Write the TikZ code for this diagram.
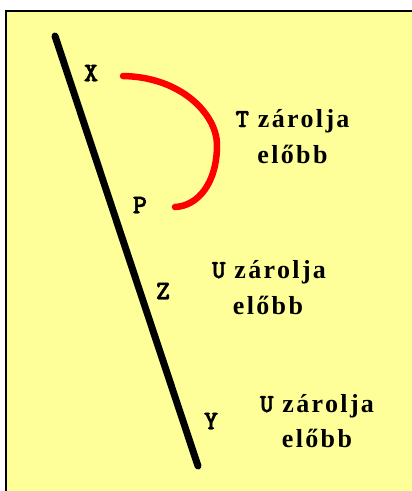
\documentclass[tikz,border=0pt]{standalone}
\usepackage{fontspec}
\setmainfont{Liberation Serif}
\newfontfamily\txtfont{Liberation Serif Bold}[LetterSpace=9]
\newfontfamily\courfont{lmmonolt10-bold.otf}[FakeBold=1.8]
\definecolor{bgyellow}{HTML}{FFFF99}
\definecolor{arcred}{HTML}{FF0000}
\tikzset{
  lab/.style={font=\courfont\fontsize{27}{27}\selectfont, inner sep=0pt, anchor=center},
  lock/.style={font=\txtfont\fontsize{26}{26}\selectfont, inner sep=0pt, anchor=base},
  tline/.style={line width=7pt, line cap=round, black},
  rarc/.style={line width=6.5pt, line cap=round, arcred}
}
\newcommand{\mono}[1]{{\courfont\fontsize{26}{26}\selectfont #1}}
\begin{document}
\begin{tikzpicture}[x=1pt,y=-1pt]
\useasboundingbox (0,0) rectangle (412,491);
\fill[white] (0,0) rectangle (412,491);
\begin{scope}
\clip (0,0) rectangle (412,491);
\draw[line width=2.2pt, fill=bgyellow] (6,11) rectangle (520,600);
\end{scope}
\coordinate (top) at (55,36);
\coordinate (bot) at (198,466);
\draw[tline] (top) -- (bot);
\coordinate (a0) at (123,76);
\coordinate (a1) at (217,145);
\coordinate (a2) at (175,207);
\draw[rarc] (a0) .. controls (182,77) and (217,115) .. (a1)
  .. controls (217,183) and (198,206) .. (a2);
\node[lab] (X) at (91,73) {X};
\node[lab] (P) at (140,205) {P};
\node[lab] (Z) at (163,291) {Z};
\node[lab] (Y) at (211,421) {Y};
\node[lock] (T1a) at (292.5,127) {\mono{T} zárolja};
\node[lock] (T1b) at (292.5,163) {előbb};
\node[lock] (U1a) at (269,278) {\mono{U} zárolja};
\node[lock] (U1b) at (268,314) {előbb};
\node[lock] (U2a) at (317,412) {\mono{U} zárolja};
\node[lock] (U2b) at (317,447) {előbb};
\end{tikzpicture}
\end{document}
